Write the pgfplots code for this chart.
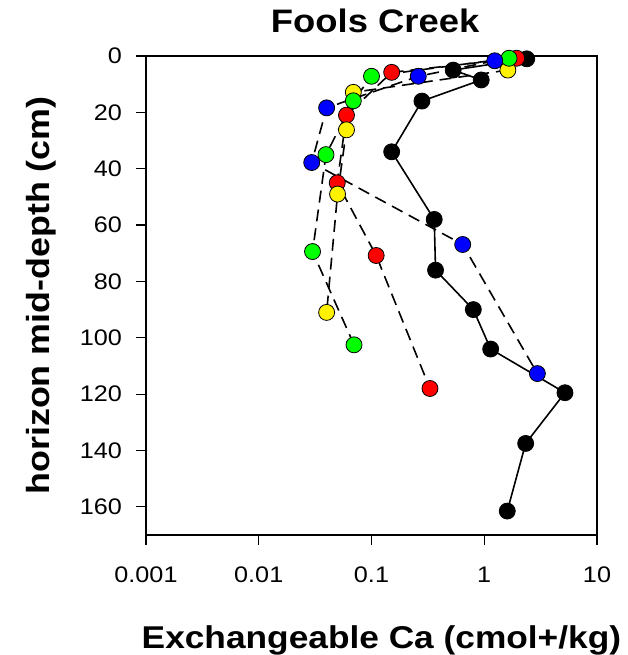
\documentclass[border=0pt]{standalone}
\usepackage{fontspec}
\setmainfont{Liberation Sans}[FakeStretch=1.12]
\usepackage{pgfplots}
\pgfplotsset{compat=1.18}

\begin{document}
\begin{tikzpicture}
  % page frame, 1pt per pixel of the reference
  \useasboundingbox (-146pt,-120pt) rectangle (481pt,535pt);
  \begin{axis}[
      scale only axis,
      width=451pt, height=479pt,
      xmode=log, xmin=0.001, xmax=10,
      xtick={0.001,0.01,0.1,1,10},
      xticklabels={0.001,0.01,0.1,1,10},
      xminorticks=false,
      y dir=reverse, ymin=0, ymax=170,
      ytick={0,20,...,160},
      tick align=outside,
      xtick pos=bottom, ytick pos=left,
      major tick length=10pt,
      axis line style={line width=1.2pt},
      every tick/.style={black, line width=1.2pt},
      /pgf/number format/assume math mode=true,
      ticklabel style={font=\fontsize{22.5}{22.5}\selectfont, inner sep=0pt},
      xticklabel style={anchor=base, yshift=-37pt},
      yticklabel style={anchor=east, xshift=-14pt},
      title={Fools Creek},
      title style={font=\fontsize{32.5}{32.5}\selectfont\bfseries,
        at={(axis description cs:0.508,1.0355)}, anchor=base},
      xlabel={Exchangeable Ca (cmol+/kg)},
      xlabel style={font=\fontsize{31.5}{31.5}\selectfont\bfseries,
        at={(axis description cs:0.522,-0.2359)}, anchor=base},
      ylabel={horizon mid-depth (cm)},
      ylabel style={font=\fontsize{32}{32}\selectfont\bfseries,
        at={(axis description cs:-0.2129,0.5)}, anchor=base},
      clip=false,
      every axis plot/.append style={line width=1.6pt, black},
      mark size=8pt,
    ]
    % black site, solid
    \addplot[solid, mark=*, mark options={fill=black, draw=black, line width=0.8pt}] coordinates {
      (2.38,1) (0.53,5) (0.94,8.5) (0.28,16) (0.151,34) (0.36,58) (0.37,76)
      (0.80,90) (1.14,104) (5.2,119.5) (2.33,137.5) (1.60,161.5)};
    % coloured sites, dashed
    \addplot[dash pattern=on 12pt off 7pt, mark=*, mark options={solid, fill=red, draw=black, line width=0.8pt}] coordinates {
      (1.94,0.8) (0.151,5.8) (0.060,21) (0.0497,45) (0.11,70.8) (0.33,118)};
    \addplot[dash pattern=on 12pt off 7pt, mark=*, mark options={solid, fill=yellow, draw=black, line width=0.8pt}] coordinates {
      (1.62,5) (0.069,12.9) (0.060,26.2) (0.050,49) (0.040,91)};
    \addplot[dash pattern=on 12pt off 7pt, mark=*, mark options={solid, fill=green, draw=black, line width=0.8pt}] coordinates {
      (1.66,0.8) (0.100,7.2) (0.069,15.9) (0.0395,35) (0.030,69.4) (0.070,102.5)};
    \addplot[dash pattern=on 12pt off 7pt, mark=*, mark options={solid, fill=blue, draw=black, line width=0.8pt}] coordinates {
      (1.24,1.7) (0.26,7.2) (0.040,18.4) (0.0295,37.8) (0.644,66.9) (2.96,112.7)};
  \end{axis}
\end{tikzpicture}
\end{document}
